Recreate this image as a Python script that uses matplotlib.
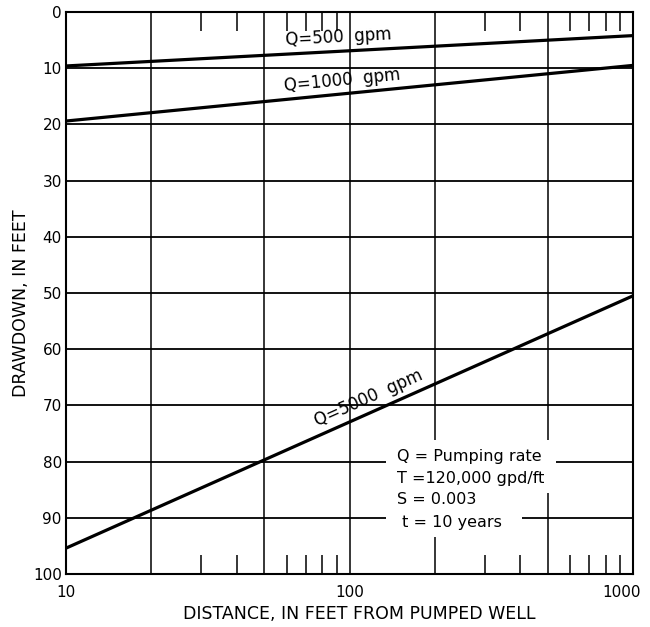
import numpy as np
import matplotlib
matplotlib.use("Agg")
import matplotlib.pyplot as plt
import matplotlib.transforms as mtransforms
from matplotlib.patches import Rectangle
from matplotlib.ticker import FixedLocator, NullFormatter

# Data (distance in ft, drawdown in ft)
distance = [10, 1000]
q500 = [9.6, 4.2]
q1000 = [19.4, 9.5]
q5000 = [95.4, 50.5]
series_labels = ["Q=500  gpm", "Q=1000  gpm", "Q=5000  gpm"]
label_x = [92, 95, 122]
y_ticks = [0, 10, 20, 30, 40, 50, 60, 70, 80, 90, 100]
x_ticks = [10, 100, 1000]
x_grid = [20, 50, 100, 200, 500]
x_minor = [30, 40, 60, 70, 80, 90, 300, 400, 600, 700, 800, 900]
legend_lines = ["Q = Pumping rate", "T =120,000 gpd/ft", "S = 0.003", " t = 10 years"]

plt.rcParams['font.family'] = ['DejaVu Sans']
fig = plt.figure(figsize=(6.5, 6.27), dpi=100)
ax = fig.add_axes([66/650, 53/627, 567/650, 562/627])
ax.set_xscale('log')
ax.set_xlim(10, 1000)
ax.set_ylim(100, 0)

# grid
for yv in y_ticks[1:-1]:
    ax.axhline(yv, color='black', lw=1.3, zorder=1)
for xv in x_grid:
    ax.axvline(xv, color='black', lw=1.1, zorder=1)

for s in ax.spines.values():
    s.set_linewidth(1.5)

ax.xaxis.set_major_locator(FixedLocator(x_ticks))
ax.xaxis.set_minor_locator(FixedLocator(x_minor))
ax.xaxis.set_minor_formatter(NullFormatter())
ax.set_xticklabels([str(v) for v in x_ticks], fontsize=11)
ax.tick_params(axis='x', which='major', length=0, pad=8)
ax.tick_params(axis='x', which='minor', direction='in', length=14, width=1.1, top=True, bottom=True)
xtl = ax.get_xticklabels()
xtl[-1].set_transform(xtl[-1].get_transform() +
                      mtransforms.ScaledTranslation(-11/100, 0, fig.dpi_scale_trans))
ax.set_yticks(y_ticks)
ax.set_yticklabels([str(v) for v in y_ticks], fontsize=11)
ax.tick_params(axis='y', which='major', length=0, pad=3)

ax.set_xlabel("DISTANCE, IN FEET FROM PUMPED WELL", fontsize=12.5)
ax.set_ylabel("DRAWDOWN, IN FEET", fontsize=12.5)
ax.xaxis.set_label_coords(0.517, -0.055)
ax.yaxis.set_label_coords(-0.0635, 0.482)

series = [q500, q1000, q5000]
for vals in series:
    ax.plot(distance, vals, color='black', lw=2.3, zorder=3, solid_capstyle='butt')

fig.canvas.draw()
for vals, lab, lx in zip(series, series_labels, label_x):
    p0 = ax.transData.transform((distance[0], vals[0]))
    p1 = ax.transData.transform((distance[1], vals[1]))
    ang = np.degrees(np.arctan2(p1[1] - p0[1], p1[0] - p0[0]))
    frac = (np.log10(lx) - np.log10(distance[0])) / (np.log10(distance[1]) - np.log10(distance[0]))
    ly = vals[0] + (vals[1] - vals[0]) * frac
    rad = np.radians(ang)
    off = 10
    ax.annotate(lab, xy=(lx, ly), xytext=(-off*np.sin(rad), off*np.cos(rad)),
                textcoords='offset points', rotation=ang, rotation_mode='anchor',
                ha='center', va='center', fontsize=12, zorder=4)

# white masks behind the parameter text (as in the original)
for (x0, y0, x1, y1) in [(386, 440, 556, 493), (386, 493, 522, 537)]:
    ax.add_patch(Rectangle((x0/650, 1 - y1/627), (x1-x0)/650, (y1-y0)/627,
                           transform=fig.transFigure, facecolor='white',
                           edgecolor='none', zorder=4.5))

ty = [457, 479, 500, 523]
for txt, yy in zip(legend_lines, ty):
    ax.text(397/650, 1 - yy/627, txt, fontsize=11.5, ha='left', va='center',
            transform=fig.transFigure, zorder=5)

fig.savefig("out.png", dpi=100, facecolor='white')
